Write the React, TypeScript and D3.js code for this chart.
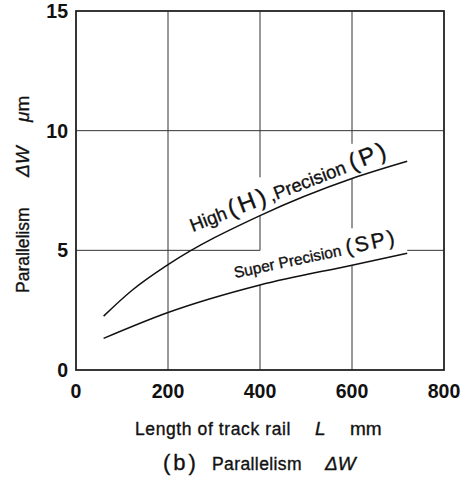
import React from "react";
import * as d3 from "d3";

const xTicks = [0, 200, 400, 600, 800];
const yTicks = [0, 5, 10, 15];

const hpLength = [60, 120, 200, 400, 600, 720];
const hpValue = [2.25, 3.3, 4.4, 6.45, 8.0, 8.72];

const spLength = [60, 200, 400, 600, 720];
const spValue = [1.32, 2.4, 3.55, 4.38, 4.88];

// grid line segments in data units (gaps where labels cross)
const gridXAt = [200, 400, 400, 400, 600, 600, 600];
const gridXFrom = [0, 0, 5, 8.05, 0, 5.92, 9.45];
const gridXTo = [15, 3.55, 6.45, 15, 4.38, 8.0, 15];

const gridYAt = [10, 5, 5];
const gridYFrom = [0, 0, 720];
const gridYTo = [800, 400, 800];

const FONT = "'Liberation Sans', Arial, Helvetica, sans-serif";

export default function App() {
  const W = 468;
  const H = 477;
  const x = d3.scaleLinear().domain([0, 800]).range([76, 444]);
  const y = d3.scaleLinear().domain([0, 15]).range([370, 11]);

  const line = d3
    .line<[number, number]>()
    .x((d) => x(d[0]))
    .y((d) => y(d[1]))
    .curve(d3.curveMonotoneX);

  const hp = line(hpLength.map((l, i) => [l, hpValue[i]] as [number, number])) || "";
  const sp = line(spLength.map((l, i) => [l, spValue[i]] as [number, number])) || "";

  const med = { stroke: "#111", strokeWidth: 0.35 };

  return (
    <svg
      width={W}
      height={H}
      style={{ position: "absolute", left: 0, top: 0, background: "#fff" }}
      fontFamily={FONT}
    >
      <rect x={0} y={0} width={W} height={H} fill="#fff" />
      {/* grid */}
      {gridXAt.map((g, i) => (
        <line
          key={"gx" + i}
          x1={x(g)}
          x2={x(g)}
          y1={y(gridXFrom[i])}
          y2={y(gridXTo[i])}
          stroke="#333"
          strokeWidth={1}
        />
      ))}
      {gridYAt.map((g, i) => (
        <line
          key={"gy" + i}
          x1={x(gridYFrom[i])}
          x2={x(gridYTo[i])}
          y1={y(g)}
          y2={y(g)}
          stroke="#333"
          strokeWidth={1}
        />
      ))}
      {/* frame */}
      <rect
        x={x(0)}
        y={y(15)}
        width={x(800) - x(0)}
        height={y(0) - y(15)}
        fill="none"
        stroke="#222"
        strokeWidth={1.8}
      />
      {/* curves */}
      <path d={hp} fill="none" stroke="#111" strokeWidth={1.5} />
      <path d={sp} fill="none" stroke="#111" strokeWidth={1.5} />

      {/* curve labels */}
      <text
        transform={`translate(${x(254)},${y(5.77)}) rotate(-21)`}
        fontSize={18.5}
        fill="#111"
        {...med}
      >
        <tspan>High</tspan>
        <tspan fontSize={24} letterSpacing={3} dx={3}>(H)</tspan>
        <tspan dx={1}>,Precision</tspan>
        <tspan fontSize={24} letterSpacing={3} dx={5}>(P)</tspan>
      </text>
      <text
        transform={`translate(${x(346)},${y(3.84)}) rotate(-12)`}
        fontSize={15.5}
        fill="#111"
        {...med}
      >
        <tspan>Super Precision</tspan>
        <tspan fontSize={21} letterSpacing={2.5} dx={5}>(SP)</tspan>
      </text>

      {/* y ticks */}
      {yTicks.map((t) => (
        <text
          key={"yt" + t}
          x={68}
          y={y(t)}
          dy="0.36em"
          textAnchor="end"
          fontSize={19.5}
          fontWeight="bold"
          fill="#111"
        >
          {t}
        </text>
      ))}
      {/* x ticks */}
      {xTicks.map((t) => (
        <text
          key={"xt" + t}
          x={x(t)}
          y={398}
          textAnchor="middle"
          fontSize={19.5}
          fontWeight="bold"
          fill="#111"
        >
          {t}
        </text>
      ))}

      {/* y title */}
      <text transform="translate(29,293) rotate(-90)" fontSize={17.5} fill="#111" {...med}>
        <tspan x={0}>Parallelism</tspan>
        <tspan x={116} fontSize={19} fontStyle="italic">ΔW</tspan>
        <tspan x={171} fontSize={19} fontStyle="italic">μ</tspan>
        <tspan fontSize={19}>m</tspan>
      </text>

      {/* x title */}
      <text y={435} fontSize={17.5} fill="#111" {...med}>
        <tspan x={135} letterSpacing={0.6}>Length of track rail</tspan>
        <tspan x={315} fontSize={19} fontStyle="italic">L</tspan>
        <tspan x={350} fontSize={19}>mm</tspan>
      </text>

      {/* caption */}
      <text y={470} fill="#111" {...med}>
        <tspan x={163} fontSize={22} letterSpacing={3}>(b)</tspan>
        <tspan x={212} fontSize={17.5} letterSpacing={0.4}>Parallelism</tspan>
        <tspan x={325} fontSize={19} fontStyle="italic">ΔW</tspan>
      </text>
    </svg>
  );
}
